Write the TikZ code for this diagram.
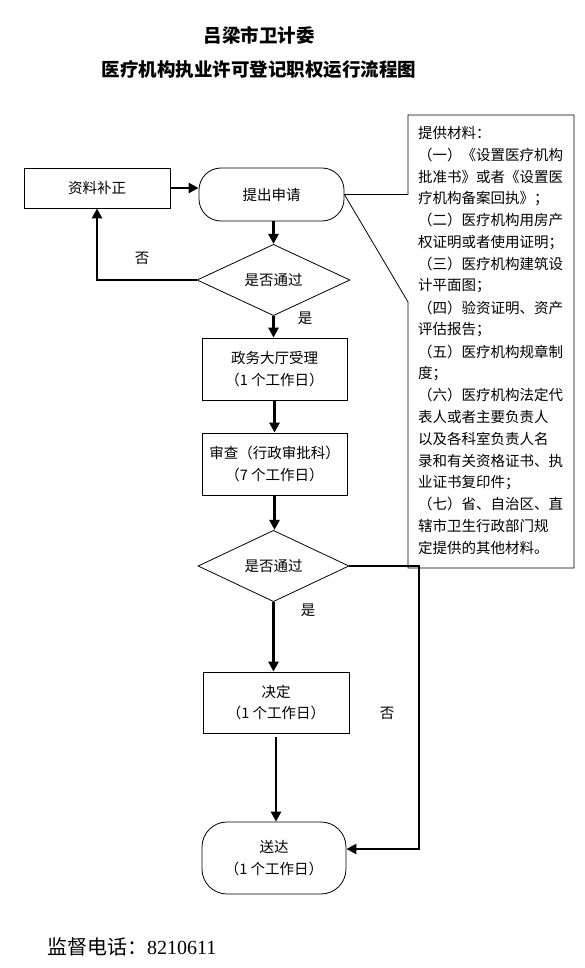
\documentclass[tikz,border=0pt]{standalone}
\usepackage{fontspec}
\newfontfamily\cjk{Noto Sans CJK SC}
\newfontfamily\serifd{Liberation Serif}
\usetikzlibrary{arrows.meta,shapes.geometric}
\begin{document}
\begin{tikzpicture}[x=1pt,y=-1pt,
  txt/.style={font=\cjk\fontsize{14.5}{21.8}\selectfont},
  box/.style={draw, line width=0.8pt, minimum width=145pt, minimum height=62pt, inner sep=0pt, align=center, txt},
  dia/.style={draw, diamond, line width=0.8pt, inner sep=0pt, txt},
  arr/.style={line width=2.6pt, -{Triangle[width=10pt,length=10pt]}},
  lab/.style={inner sep=0pt, txt},
  mat/.style={inner sep=0pt, anchor=west, txt},
  title/.style={inner sep=0pt, font=\cjk\bfseries\fontsize{18.5}{22}\selectfont},
  thinline/.style={line width=0.8pt}]
\useasboundingbox (0,0) rectangle (585,968);
\fill[white] (0,0) rectangle (585,968);
% titles
\node[title] (t1) at (259,35) {吕梁市卫计委};
\node[title] (t2) at (259,70) {医疗机构执业许可登记职权运行流程图};
% flow nodes
\node[box, minimum width=146pt, minimum height=40pt] (zl) at (97,188) {资料补正};
\node[box, rounded corners=22pt, minimum height=53pt] (tc) at (271.5,194.5) {提出申请};
\node[dia, minimum width=153pt, minimum height=60pt] (d1) at (273.5,280) {是否通过};
\node[box] (b2) at (274.5,369) {政务大厅受理\\（1 个工作日）};
\node[box] (b3) at (274.5,464) {审查（行政审批科）\\（7 个工作日）};
\node[dia, minimum width=151pt, minimum height=62pt] (d2) at (273.5,566) {是否通过};
\node[box, minimum width=146pt, minimum height=61pt] (b4) at (276,702.5) {决定\\（1 个工作日）};
\node[box, rounded corners=25pt, minimum width=144pt, minimum height=72pt] (sd) at (274,858) {送达\\（1 个工作日）};
% connectors
\draw[arr] (zl.east) -- (zl.east -| tc.west);
\draw[arr] (d1.north |- tc.south) -- (d1.north);
\draw[arr] (d1.west) -| (zl.south);
\draw[arr] (d1.south) -- (d1.south |- b2.north);
\draw[arr] (b2.south) -- (b3.north);
\draw[arr] (b3.south) -- (b3.south |- d2.north);
\draw[arr] (d2.south) -- (d2.south |- b4.north);
\draw[arr, shorten <=4pt] (b4.south) -- (b4.south |- sd.north);
\coordinate (r2) at (419,849);
\draw[arr] (d2.east) -| (r2) -- (r2 -| sd.east);
% labels
\node[lab] (n1) at (142,258) {否};
\node[lab] (y1) at (305,318) {是};
\node[lab] (y2) at (308,610) {是};
\node[lab] (n2) at (387,713) {否};
% callout box
\coordinate (ctl) at (408,115);
\coordinate (ctr) at (574,115);
\coordinate (cbr) at (574,568);
\coordinate (cbl) at (408,568);
\coordinate (cgap) at (408,302);
\draw[thinline] (tc.east) -- (tc.east -| ctl) -- (ctl) -- (ctr) -- (cbr) -- (cbl) -- (cgap) -- cycle;
\foreach \t [count=\i] in {提供材料：,（一）《设置医疗机构,批准书》或者《设置医,疗机构备案回执》；,（二）医疗机构用房产,权证明或者使用证明；,（三）医疗机构建筑设,计平面图；,（四）验资证明、资产,评估报告；,（五）医疗机构规章制,度；,（六）医疗机构法定代,表人或者主要负责人,以及各科室负责人名,录和有关资格证书、执,业证书复印件；,（七）省、自治区、直,辖市卫生行政部门规,定提供的其他材料。}
  \node[mat] (m\i) at (418, {133+21.85*(\i-1)}) {\t};
% footer
\node[inner sep=0pt, anchor=west, font=\cjk\fontsize{20}{24}\selectfont] (ft) at (47,947) {监督电话：{\serifd 8210611}};
\end{tikzpicture}
\end{document}
